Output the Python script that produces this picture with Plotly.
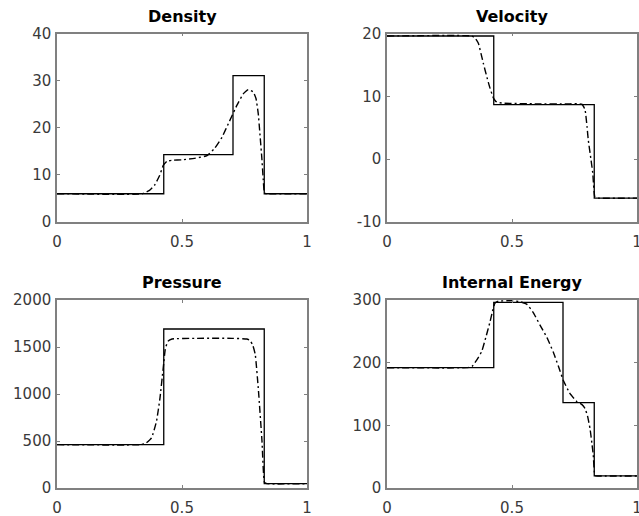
import plotly.graph_objects as go

# Exact solution (step profiles)
x_exact = [0, 0.427, 0.427, 0.704, 0.704, 0.829, 0.829, 1]
rho_exact = [5.999, 5.999, 14.28, 14.28, 31.04, 31.04, 5.992, 5.992]
u_exact = [19.60, 19.60, 8.69, 8.69, 8.69, 8.69, -6.196, -6.196]
p_exact = [460.9, 460.9, 1691.6, 1691.6, 1691.6, 1691.6, 46.1, 46.1]
e_exact = [192.1, 192.1, 296.1, 296.1, 136.2, 136.2, 19.23, 19.23]

# Numerical solution
x_rho = [0, 0.34, 0.37, 0.39, 0.41, 0.425, 0.44, 0.46, 0.50, 0.55, 0.60, 0.63, 0.66, 0.69, 0.72, 0.745, 0.765, 0.785, 0.796, 0.805, 0.812, 0.819, 0.825, 0.83, 0.84, 1]
rho_num = [6, 6, 6.7, 7.8, 9.8, 12.0, 12.9, 13.1, 13.2, 13.5, 14.1, 15.6, 18.0, 21.4, 24.8, 27.2, 28.1, 27.6, 26.2, 23.0, 18.5, 13.8, 9.0, 6.1, 6, 6]

x_u = [0, 0.339, 0.352, 0.365, 0.385, 0.40, 0.412, 0.425, 0.435, 0.445, 0.47, 0.60, 0.72, 0.779, 0.792, 0.80, 0.805, 0.815, 0.823, 0.832, 0.845, 1]
u_num = [19.6, 19.6, 19.3, 18.5, 15.3, 13.0, 11.3, 9.8, 9.2, 9.0, 8.9, 8.8, 8.8, 8.75, 7.9, 5.2, 3.1, 0.2, -2.2, -6.1, -6.2, -6.2]

x_p = [0, 0.335, 0.355, 0.378, 0.398, 0.412, 0.425, 0.434, 0.445, 0.46, 0.55, 0.70, 0.759, 0.772, 0.783, 0.793, 0.806, 0.82, 0.83, 0.84, 1]
p_num = [461, 461, 475, 533, 710, 959, 1279, 1492, 1563, 1585, 1592, 1592, 1585, 1570, 1520, 1421, 1030, 497, 60, 46, 46]

x_e = [0, 0.32, 0.34, 0.36, 0.379, 0.395, 0.412, 0.422, 0.432, 0.445, 0.50, 0.535, 0.56, 0.585, 0.612, 0.64, 0.665, 0.685, 0.705, 0.73, 0.759, 0.78, 0.792, 0.802, 0.812, 0.82, 0.825, 0.832, 0.845, 1]
e_num = [192, 192, 194, 205, 218, 240, 265, 282, 295, 298, 299, 297, 293, 280, 260, 240, 217, 195, 172, 152, 138, 133, 127, 115, 95, 70, 53, 20, 19.2, 19.2]

titles = ["Density", "Velocity", "Pressure", "Internal Energy"]
x_ticks = [0, 0.5, 1]
x_tick_text = ["0", "0.5", "1"]
y_ticks = [[0, 10, 20, 30, 40], [-10, 0, 10, 20], [0, 500, 1000, 1500, 2000], [0, 100, 200, 300]]
y_tick_text = [["0", "10", "20", "30", "40"], ["-10", "0", "10", "20"],
               ["0", "500", "1000", "1500", "2000"], ["0", "100", "200", "300"]]
y_ranges = [[0, 40], [-10, 20], [0, 2000], [0, 300]]

panels = [
    (x_exact, rho_exact, x_rho, rho_num),
    (x_exact, u_exact, x_u, u_num),
    (x_exact, p_exact, x_p, p_num),
    (x_exact, e_exact, x_e, e_num),
]

W, H = 639, 516
xdoms = [[57 / W, 307 / W], [387 / W, 637 / W]]
ydoms = [[1 - 222 / H, 1 - 33.5 / H], [1 - 488 / H, 1 - 300 / H]]

TICKFONT = dict(family="DejaVu Sans, sans-serif", size=15, color="#3a3a3a")
TITLEFONT = dict(family="DejaVu Sans, sans-serif", size=16, color="black")

fig = go.Figure()
layout = dict(
    width=W, height=H,
    margin=dict(l=0, r=0, t=0, b=0, pad=0, autoexpand=False),
    paper_bgcolor="white", plot_bgcolor="white",
    showlegend=False,
    font=TICKFONT,
)
annotations = []
for i, (xe, ye, xn, yn) in enumerate(panels):
    r, c = divmod(i, 2)
    k = i + 1
    xa = "x" if k == 1 else f"x{k}"
    ya = "y" if k == 1 else f"y{k}"
    fig.add_trace(go.Scatter(x=xe, y=ye, mode="lines", xaxis=xa, yaxis=ya,
                             line=dict(color="black", width=1.3), hoverinfo="skip"))
    fig.add_trace(go.Scatter(x=xn, y=yn, mode="lines", xaxis=xa, yaxis=ya,
                             line=dict(color="black", width=1.4, dash="7px,3px,2px,3px",
                                       shape="spline", smoothing=0.4),
                             hoverinfo="skip"))
    axcommon = dict(showline=True, linecolor="#808080", linewidth=1.5, mirror="ticks",
                    ticks="inside", ticklen=3, tickcolor="#808080", showgrid=False, zeroline=False,
                    automargin=False, tickfont=TICKFONT, ticklabeloverflow="allow")
    layout["xaxis" if k == 1 else f"xaxis{k}"] = dict(
        domain=xdoms[c], range=[0, 1], tickvals=x_ticks, ticktext=x_tick_text,
        anchor=ya, ticklabelstandoff=5, **axcommon)
    layout["yaxis" if k == 1 else f"yaxis{k}"] = dict(
        domain=ydoms[r], range=y_ranges[i], tickvals=y_ticks[i], ticktext=y_tick_text[i],
        anchor=xa, ticklabelstandoff=1, **axcommon)
    annotations.append(dict(text=f"<b>{titles[i]}</b>", x=(xdoms[c][0] + xdoms[c][1]) / 2,
                            y=ydoms[r][1], xref="paper", yref="paper", xanchor="center",
                            yanchor="bottom", yshift=6, showarrow=False, font=TITLEFONT))
layout["annotations"] = annotations
fig.update_layout(**layout)
fig.write_html("out.html", config={"displayModeBar": False},
               post_script="document.body.style.margin='0';document.body.style.overflow='hidden';")
